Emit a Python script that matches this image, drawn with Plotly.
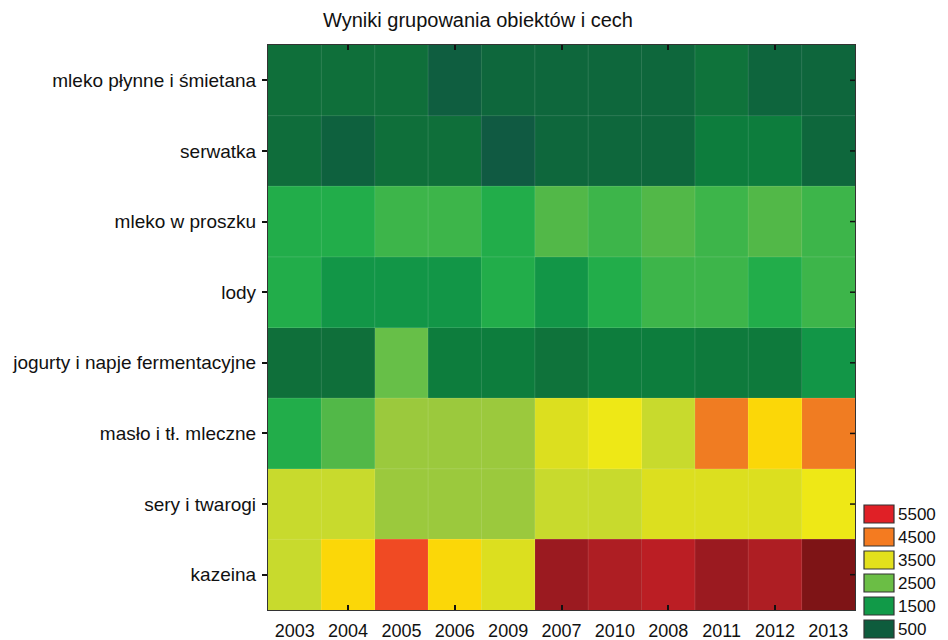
import plotly.graph_objects as go

# --- data ---------------------------------------------------------------
years = ["2003", "2004", "2005", "2006", "2009", "2007", "2010", "2008", "2011", "2012", "2013"]
products = [
    "mleko płynne i śmietana",
    "serwatka",
    "mleko w proszku",
    "lody",
    "jogurty i napje fermentacyjne",
    "masło i tł. mleczne",
    "sery i twarogi",
    "kazeina",
]
mleko_plynne = [1000, 1000, 1000, 450, 800, 800, 800, 800, 1050, 700, 760]
serwatka = [950, 550, 1000, 1000, 300, 780, 780, 780, 1200, 1200, 780]
mleko_proszek = [1800, 1800, 2100, 2100, 1800, 2400, 2100, 2400, 2100, 2400, 2100]
lody = [1800, 1500, 1500, 1500, 1800, 1500, 1800, 2100, 2100, 1800, 2100]
jogurty = [1000, 1000, 2700, 1200, 1200, 1050, 1200, 1200, 1150, 1150, 1500]
maslo = [1800, 2400, 3000, 3000, 3000, 3600, 3900, 3300, 4700, 4200, 4700]
sery = [3300, 3300, 3000, 3000, 3000, 3300, 3300, 3600, 3600, 3600, 3900]
kazeina = [3300, 4200, 5100, 4200, 3600, 6400, 6100, 5800, 6400, 6100, 7000]
z = [mleko_plynne, serwatka, mleko_proszek, lody, jogurty, maslo, sery, kazeina]

legend_levels = [5500, 4500, 3500, 2500, 1500, 500]
legend_colors = ["#E02026", "#F47B20", "#E3E01C", "#6BBE45", "#119A48", "#0E5C3D"]

# --- colour scale ---------------------------------------------------------
stop_values = [300, 600, 800, 1000, 1200, 1500, 1800, 2100, 2400, 2700, 3000, 3300,
               3600, 3900, 4200, 4700, 5100, 5500, 5800, 6100, 6400, 7000]
stop_colors = ["#105A42", "#0E623D", "#0E673C", "#0F6F3A", "#0D7D3D", "#129647",
               "#22AD4A", "#3DB54A", "#52B848", "#67BF48", "#9BC93D", "#C8DA2D",
               "#DCDF1F", "#EEE816", "#FBD708", "#F07C22", "#F04A23", "#D42022",
               "#BB1E24", "#AE1E23", "#9B1A20", "#7E1416"]
zmin, zmax = stop_values[0], stop_values[-1]
colorscale = [[(v - zmin) / (zmax - zmin), c] for v, c in zip(stop_values, stop_colors)]

xi = list(range(len(years)))
yi = list(range(len(products)))

fig = go.Figure(go.Heatmap(
    z=z, x=xi, y=yi, colorscale=colorscale, zmin=zmin, zmax=zmax,
    showscale=False, hoverinfo="skip",
))

font_family = "Liberation Sans, Arial, sans-serif"

# the page body adds an 8px offset, so the figure is sized 8px smaller
W, H = 940, 632
L, R, T, B = 260, 93, 37, 30
plot_w = W - L - R
plot_h = H - T - B

shapes = []
for i in xi[:-1]:
    shapes.append(dict(type="line", xref="x", yref="paper", x0=i + 0.5, x1=i + 0.5, y0=0, y1=1,
                       line=dict(color="rgba(255,255,255,0.13)", width=1), layer="above"))
for j in yi[:-1]:
    shapes.append(dict(type="line", xref="paper", yref="y", x0=0, x1=1, y0=j + 0.5, y1=j + 0.5,
                       line=dict(color="rgba(255,255,255,0.13)", width=1), layer="above"))
# inside ticks on the right-hand frame
for j in yi:
    shapes.append(dict(type="line", xref="paper", yref="y", x0=1 - 5 / plot_w, x1=1, y0=j, y1=j,
                       line=dict(color="#111111", width=1.5), layer="above"))

# legend boxes (right, bottom)
annotations = []
box_top = 497
step = 23
for k, (lev, col) in enumerate(zip(legend_levels, legend_colors)):
    top_px = box_top + k * step
    bot_px = top_px + 18
    y0 = (H - B - bot_px) / plot_h
    y1 = (H - B - top_px) / plot_h
    shapes.append(dict(type="rect", xref="paper", yref="paper",
                       x0=(856 - L) / plot_w, x1=(886 - L) / plot_w, y0=y0, y1=y1,
                       fillcolor=col, line=dict(color="#333333", width=1.2), layer="above"))
    annotations.append(dict(xref="paper", yref="paper", x=(892 - L) / plot_w, y=(y0 + y1) / 2,
                            text=str(lev), showarrow=False, xanchor="left", yanchor="middle",
                            xshift=-4,
                            font=dict(size=17, color="#111111", family=font_family)))

fig.update_layout(
    width=W, height=H,
    margin=dict(l=L, r=R, t=T, b=B, pad=0),
    paper_bgcolor="white", plot_bgcolor="white",
    title=dict(text="Wyniki grupowania obiektów i cech", x=470 / W, xanchor="center",
               y=1 - 12 / H, yanchor="middle",
               font=dict(size=20, color="#111111", family=font_family)),
    font=dict(family=font_family, color="#111111"),
    shapes=shapes, annotations=annotations,
)
fig.update_xaxes(
    tickmode="array", tickvals=xi, ticktext=years, ticks="", range=[-0.5, len(years) - 0.5],
    showline=True, linecolor="#333333", linewidth=1.2, mirror="ticks", automargin=False,
    showgrid=False, zeroline=False, tickfont=dict(size=18), ticklabelstandoff=4,
    minor=dict(tickmode="array", tickvals=[xi[k] for k in range(1, len(xi), 2)],
               ticks="inside", ticklen=5, tickcolor="#111111", tickwidth=1.5),
)
fig.update_yaxes(
    tickmode="array", tickvals=yi, ticktext=products, autorange=False,
    range=[len(products) - 0.5, -0.5], automargin=False,
    ticks="outside", ticklen=5, tickcolor="#111111", tickwidth=1.5,
    showline=True, linecolor="#333333", linewidth=1.2, mirror=True,
    showgrid=False, zeroline=False, tickfont=dict(size=19), ticklabelstandoff=2,
)

fig.write_html("out.html")
